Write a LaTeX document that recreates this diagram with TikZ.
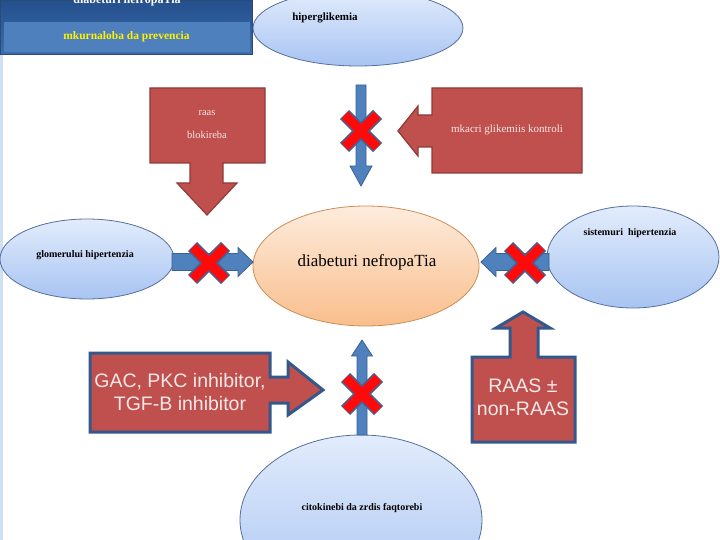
\documentclass[tikz,border=0pt]{standalone}
\usepackage{fontspec}
\setmainfont{Liberation Serif}
\newfontfamily\sansf{Liberation Sans}
\usetikzlibrary{shapes.geometric,calc}
\definecolor{hdrtop}{HTML}{24508C}
\definecolor{hdrbot}{HTML}{3C6DB0}
\definecolor{hdrmid}{HTML}{4F80BE}
\definecolor{hdredge}{HTML}{2A4A78}
\definecolor{stripc}{HTML}{CFE0F2}
\definecolor{ellT}{HTML}{E2ECFC}
\definecolor{ellB}{HTML}{A8C4F2}
\definecolor{elledge}{HTML}{55709E}
\definecolor{orT}{HTML}{FDECDD}
\definecolor{orB}{HTML}{F9BE8C}
\definecolor{oredge}{HTML}{CC8E55}
\definecolor{boxred}{HTML}{C0504D}
\definecolor{rededge}{HTML}{8E3B39}
\definecolor{blueedge}{HTML}{34588C}
\definecolor{arrblue}{HTML}{4F81BD}
\definecolor{arredge}{HTML}{3B6296}
\definecolor{xred}{HTML}{FF0A0A}
\definecolor{xedge}{HTML}{4B5E8C}
\definecolor{boxtext}{HTML}{F5E8E8}
\newcommand\myvarrow[6][]{%
 \path[#1] let \p1=(#2), \p2=(#3), \n1={ifthenelse(\y2>\y1,1,-1)} in
 (\x1-#4,\y1) -- (\x1-#4,{\y2-\n1*#6}) -- (\x1-#5,{\y2-\n1*#6}) -- (\x2,\y2)
 -- (\x1+#5,{\y2-\n1*#6}) -- (\x1+#4,{\y2-\n1*#6}) -- (\x1+#4,\y1) -- cycle;}
\newcommand\myharrow[6][]{%
 \path[#1] let \p1=(#2), \p2=(#3), \n1={ifthenelse(\x2>\x1,1,-1)} in
 (\x1,\y1-#4) -- ({\x2-\n1*#6},\y1-#4) -- ({\x2-\n1*#6},\y1-#5) -- (\x2,\y2)
 -- ({\x2-\n1*#6},\y1+#5) -- ({\x2-\n1*#6},\y1+#4) -- (\x1,\y1+#4) -- cycle;}
\begin{document}
\begin{tikzpicture}[x=1pt,y=-1pt,
 blueell/.style={ellipse, draw=elledge, line width=0.8pt, top color=ellT, bottom color=ellB, inner sep=0pt},
 orell/.style={ellipse, draw=oredge, line width=0.8pt, top color=orT, bottom color=orB, inner sep=0pt},
 lbl/.style={font=\bfseries\fontsize{10}{12}\selectfont, text=black, inner sep=0pt},
 fatarrow/.style={fill=arrblue, draw=arredge, line width=0.8pt},
 redbox/.style={fill=boxred, draw=rededge, line width=1.2pt, line join=miter},
 redboxb/.style={fill=boxred, draw=blueedge, line width=3pt, line join=miter},
 boxtxt/.style={text=boxtext, font=\fontsize{10.5}{12}\selectfont, inner sep=0pt},
 bigtxt/.style={text=boxtext, font=\sansf\fontsize{19.5}{23}\selectfont, align=center, inner sep=0pt},
 xcross/.pic={
   \draw[line width=13pt,xedge] (-16.5,-16.5)--(16.5,16.5) (-16.5,16.5)--(16.5,-16.5);
   \draw[line width=9.5pt,xred] (-16,-16)--(16,16) (-16,16)--(16,-16);}
]
\useasboundingbox (0,0) rectangle (720,540);
\fill[white] (0,0) rectangle (720,540);
% header
\fill[stripc] (0,55) rectangle (3,540);
\node[draw=hdredge, line width=1.5pt, top color=hdrtop, bottom color=hdrbot, minimum width=252pt, minimum height=54pt, inner sep=0pt] (hdrbox) at (126.5,27.5) {};
\node[fill=hdrmid, minimum width=246pt, minimum height=30pt, inner sep=0pt, text=yellow, font=\bfseries\fontsize{11.5}{13}\selectfont] (hdr) at (126.5,37) {mkurnaloba da prevencia};
\node[anchor=base, text=white, font=\bfseries\fontsize{12}{14}\selectfont, inner sep=0pt] (hdrtop) at (127,4) {diabeturi nefropaTia};
% ellipses
\node[blueell, minimum width=210pt, minimum height=76pt] (hyper) at (358,28) {};
\node[lbl, font=\bfseries\fontsize{11}{12}\selectfont] (hypert) at (325,18) {hiperglikemia};
\node[orell, minimum width=226pt, minimum height=120pt] (diab) at (366,266) {};
\node[inner sep=0pt, font=\fontsize{17}{20}\selectfont] (diabt) at (367,262) {diabeturi nefropaTia};
\node[blueell, minimum width=174pt, minimum height=80pt] (glom) at (87,259) {};
\node[lbl] (glomt) at (85,255) {glomerului hipertenzia};
\node[blueell, minimum width=172pt, minimum height=102pt] (sist) at (633,257) {};
\node[lbl] (sistt) at (630,233) {sistemuri\enspace hipertenzia};
\node[blueell, minimum width=242pt, minimum height=170pt] (cito) at (361,520) {};
\node[lbl] (citot) at (362,508) {citokinebi da zrdis faqtorebi};
% blue arrows
\coordinate (a1s) at (361,85); \coordinate (a1e) at (361,186);
\coordinate (a2s) at (172,262); \coordinate (a2e) at (253,262);
\coordinate (a3s) at (549,262); \coordinate (a3e) at (481,262);
\coordinate (a4s) at (362,435); \coordinate (a4e) at (362,340);
\myvarrow[fatarrow]{a1s}{a1e}{5pt}{11pt}{20pt}
\myharrow[fatarrow]{a2s}{a2e}{8.5pt}{14.5pt}{15pt}
\myharrow[fatarrow]{a3s}{a3e}{8.5pt}{14.5pt}{15pt}
\myvarrow[fatarrow]{a4s}{a4e}{5pt}{10.5pt}{16pt}
% red callouts
\path[redbox] (150,88) -- (265,88) -- (265,163) -- (223,163) -- (223,183) -- (237,183)
  -- (207,215) -- (177,183) -- (190,183) -- (190,163) -- (150,163) -- cycle;
\node[boxtxt] (raast) at (207,113) {raas};
\node[boxtxt] (raasb) at (207,135) {blokireba};
\path[redbox] (582,88) -- (582,173) -- (432,173) -- (432,147) -- (418,147) -- (418,156)
  -- (398,131) -- (418,106) -- (418,115) -- (432,115) -- (432,88) -- cycle;
\node[boxtxt, font=\fontsize{11}{12}\selectfont] (mkacri) at (507,130) {mkacri glikemiis kontroli};
\path[redboxb] (90,353) -- (270,353) -- (270,377) -- (288,377) -- (288,362) -- (323,390)
  -- (288,415) -- (288,403) -- (270,403) -- (270,432) -- (90,432) -- cycle;
\node[bigtxt] (gac) at (180,392) {GAC, PKC inhibitor,\\TGF-B inhibitor};
\path[redboxb] (472,357) -- (510,357) -- (510,328) -- (496,328) -- (523,312) -- (550,328)
  -- (538,328) -- (538,357) -- (575,357) -- (575,442) -- (472,442) -- cycle;
\node[bigtxt] (raasn) at (523,397) {RAAS ±\\non-RAAS};
% red crosses
\pic at (361,131) {xcross};
\pic at (209,263) {xcross};
\pic at (525,263) {xcross};
\pic at (362,394) {xcross};
\end{tikzpicture}
\end{document}
